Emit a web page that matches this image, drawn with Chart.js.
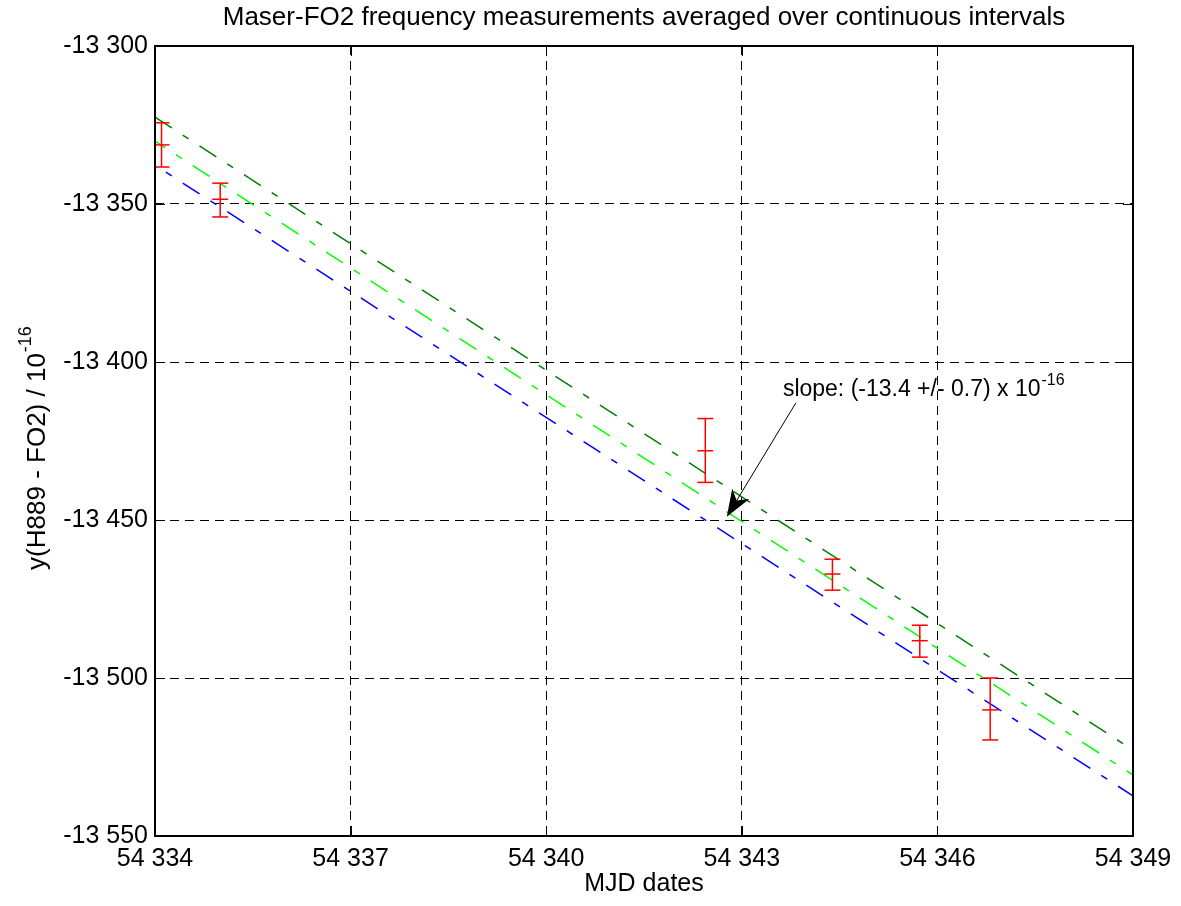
<!DOCTYPE html>
<html>
<head>
<meta charset="utf-8">
<title>Maser-FO2 frequency measurements</title>
<script src="https://cdn.jsdelivr.net/npm/chart.js@4.4.1/dist/chart.umd.min.js"></script>
<style>
    html, body { margin: 0; padding: 0; background: #ffffff; }
    #wrap { width: 1181px; height: 906px; }
</style>
</head>
<body>
<div id="wrap"><canvas id="maserChart" width="1181" height="906"></canvas></div>
<script>
// Averaged measurements (MJD) with their error bars
const mjd   = [54334.1, 54335.0, 54342.44, 54344.39, 54345.73, 54346.81];
const yMean = [-13331.3, -13348.5, -13428.1, -13467.1, -13488.2, -13510.1];
const yHigh = [-13324.3, -13343.4, -13417.9, -13462.4, -13483.3, -13500.0];
const yLow  = [-13338.3, -13354.1, -13438.1, -13472.2, -13493.4, -13519.6];

// Linear fit and its bounds (end points)
const fitX      = [54334, 54349];
const fitUpper  = [-13322.5, -13522.8];
const fitCenter = [-13330.1, -13530.7];
const fitLower  = [-13337.7, -13537.3];

// Axis ticks
const xTicks = [54334, 54337, 54340, 54343, 54346, 54349];
const yTicks = [-13550, -13500, -13450, -13400, -13350, -13300];

// Slope annotation (data coordinates)
const slopeText = 'slope: (-13.4 +/- 0.7) x 10';
const slopeExp = '-16';
const slopeLabelAt = { x: 54343.63, y: -13410.8 };
const arrowFrom = { x: 54343.83, y: -13412.9 };
const arrowTo = { x: 54342.77, y: -13449.0 };

const FONT = "'Liberation Sans', Arial, Helvetica, sans-serif";
Chart.defaults.font.family = FONT;
Chart.defaults.color = '#000000';

// thousands separated by a space, like "-13 300"
function spaced(v) {
    return String(Math.round(v)).replace(/\B(?=(\d{3})+(?!\d))/g, ' ');
}

function pts(xs, ys) {
    return xs.map((x, i) => ({ x: x, y: ys[i] }));
}

const barSegments = [];
mjd.forEach((x, i) => {
    barSegments.push({ x: x, y: yLow[i] }, { x: x, y: yHigh[i] }, { x: x, y: null });
});

const RED = '#ff0000';
const dashDot = [20, 13, 7, 13];

// Box, inward ticks, title, axis labels and the arrow annotation
const decorations = {
    id: 'decorations',
    afterDatasetsDraw(chart) {
        const { ctx, chartArea: a, scales } = chart;
        const xs = scales.x, ys = scales.y;
        ctx.save();

        // inward ticks
        ctx.strokeStyle = '#000';
        ctx.lineWidth = 1;
        ctx.beginPath();
        xTicks.forEach(v => {
            const px = Math.round(xs.getPixelForValue(v)) + 0.5;
            ctx.moveTo(px, a.bottom); ctx.lineTo(px, a.bottom - 10);
            ctx.moveTo(px, a.top); ctx.lineTo(px, a.top + 10);
        });
        yTicks.forEach(v => {
            const py = Math.round(ys.getPixelForValue(v)) + 0.5;
            ctx.moveTo(a.left, py); ctx.lineTo(a.left + 10, py);
            ctx.moveTo(a.right, py); ctx.lineTo(a.right - 10, py);
        });
        ctx.stroke();

        // box
        ctx.lineWidth = 2;
        ctx.strokeRect(a.left, a.top, a.right - a.left, a.bottom - a.top);

        // arrow
        const x1 = xs.getPixelForValue(arrowFrom.x), y1 = ys.getPixelForValue(arrowFrom.y);
        const x2 = xs.getPixelForValue(arrowTo.x), y2 = ys.getPixelForValue(arrowTo.y);
        const ang = Math.atan2(y2 - y1, x2 - x1);
        const len = 27, half = 10, notch = 19;
        const c = Math.cos(ang), s = Math.sin(ang);
        ctx.lineWidth = 1;
        ctx.beginPath();
        ctx.moveTo(x1, y1);
        ctx.lineTo(x2 - c * notch, y2 - s * notch);
        ctx.stroke();
        ctx.fillStyle = '#000';
        ctx.beginPath();
        ctx.moveTo(x2, y2);
        ctx.lineTo(x2 - c * len - s * half, y2 - s * len + c * half);
        ctx.lineTo(x2 - c * notch, y2 - s * notch);
        ctx.lineTo(x2 - c * len + s * half, y2 - s * len - c * half);
        ctx.closePath();
        ctx.fill();

        // slope label
        const tx = xs.getPixelForValue(slopeLabelAt.x), ty = ys.getPixelForValue(slopeLabelAt.y);
        ctx.textBaseline = 'alphabetic';
        ctx.textAlign = 'left';
        ctx.font = '23px ' + FONT;
        ctx.fillText(slopeText, tx, ty);
        const w = ctx.measureText(slopeText).width;
        ctx.font = '16px ' + FONT;
        ctx.fillText(slopeExp, tx + w + 1, ty - 11);

        // title
        ctx.font = '26px ' + FONT;
        ctx.textAlign = 'center';
        ctx.textBaseline = 'middle';
        ctx.fillText('Maser-FO2 frequency measurements averaged over continuous intervals', (a.left + a.right) / 2, 18);

        // x label
        ctx.font = '25px ' + FONT;
        ctx.fillText('MJD dates', (a.left + a.right) / 2, 884);

        // y label with superscript
        const yMain = 'y(H889 - FO2) / 10';
        ctx.font = '26px ' + FONT;
        const wMain = ctx.measureText(yMain).width;
        ctx.font = '18px ' + FONT;
        const wExp = ctx.measureText(slopeExp).width;
        ctx.translate(38, (a.top + a.bottom) / 2 + 7);
        ctx.rotate(-Math.PI / 2);
        ctx.textAlign = 'left';
        const start = -(wMain + wExp + 1) / 2;
        ctx.font = '26px ' + FONT;
        ctx.fillText(yMain, start, 0);
        ctx.font = '18px ' + FONT;
        ctx.fillText(slopeExp, start + wMain + 1, -12);

        ctx.restore();
    }
};

const ctx = document.getElementById('maserChart');

new Chart(ctx, {
    type: 'scatter',
    data: {
        datasets: [
            {
                label: 'error bars',
                data: barSegments,
                showLine: true,
                spanGaps: false,
                borderColor: RED,
                borderWidth: 1.5,
                pointRadius: 0
            },
            {
                label: 'upper caps',
                data: pts(mjd, yHigh),
                pointStyle: 'line',
                pointRadius: 8,
                borderColor: RED,
                borderWidth: 1.5
            },
            {
                label: 'lower caps',
                data: pts(mjd, yLow),
                pointStyle: 'line',
                pointRadius: 8,
                borderColor: RED,
                borderWidth: 1.5
            },
            {
                label: 'mean',
                data: pts(mjd, yMean),
                pointStyle: 'line',
                pointRadius: 8,
                borderColor: RED,
                borderWidth: 1.5
            },
            {
                label: 'fit upper',
                data: pts(fitX, fitUpper),
                showLine: true,
                borderColor: '#007f00',
                borderWidth: 1.5,
                borderDash: dashDot,
                pointRadius: 0
            },
            {
                label: 'fit',
                data: pts(fitX, fitCenter),
                showLine: true,
                borderColor: '#00ff00',
                borderWidth: 1.5,
                borderDash: dashDot,
                borderDashOffset: 8,
                pointRadius: 0
            },
            {
                label: 'fit lower',
                data: pts(fitX, fitLower),
                showLine: true,
                borderColor: '#0000ff',
                borderWidth: 1.5,
                borderDash: dashDot,
                borderDashOffset: 20,
                pointRadius: 0
            }
        ]
    },
    options: {
        responsive: false,
        animation: false,
        devicePixelRatio: 1,
        layout: {
            padding: { top: 46, right: 48, left: 0, bottom: 0 }
        },
        plugins: {
            legend: { display: false },
            tooltip: { enabled: false },
            title: { display: false }
        },
        scales: {
            x: {
                type: 'linear',
                min: 54334,
                max: 54349,
                afterBuildTicks: scale => { scale.ticks = xTicks.map(v => ({ value: v })); },
                afterFit: scale => { scale.height = 70; },
                grid: { color: '#000000', lineWidth: 1, drawTicks: false },
                border: { display: false, dash: [9, 6] },
                ticks: {
                    padding: 8,
                    font: { size: 25 },
                    color: '#000000',
                    maxRotation: 0,
                    callback: v => spaced(v)
                }
            },
            y: {
                type: 'linear',
                min: -13550,
                max: -13300,
                afterBuildTicks: scale => { scale.ticks = yTicks.map(v => ({ value: v })); },
                afterFit: scale => { scale.width = 155; },
                grid: { color: '#000000', lineWidth: 1, drawTicks: false },
                border: { display: false, dash: [9, 6] },
                ticks: {
                    padding: 7,
                    font: { size: 25 },
                    color: '#000000',
                    callback: v => spaced(v)
                }
            }
        }
    },
    plugins: [decorations]
});
</script>
</body>
</html>
